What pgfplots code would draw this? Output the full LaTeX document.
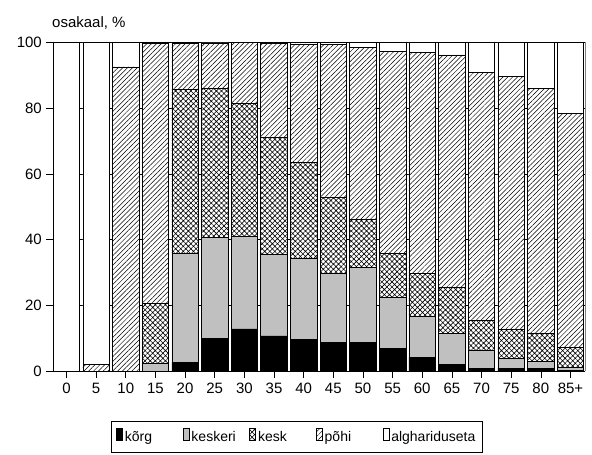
\documentclass[border=0pt]{standalone}
\usepackage{fontspec}
\setmainfont{Liberation Sans}
\usepackage{pgfplots}
\usepackage{pgfplotstable}
\pgfplotsset{compat=1.18}
\usetikzlibrary{patterns.meta}

\pgfplotstableread{
x korg keskeri kesk pohi algh
0 0 0 0 0 100
1 0 0 0 2.0 98.0
2 0 0 0 92.6 7.4
3 0 2.3 18.3 79.1 0.3
4 2.7 33.1 49.9 14.1 0.2
5 10.0 30.7 45.4 13.8 0.1
6 12.8 28.3 40.4 18.5 0
7 10.7 24.7 35.6 28.7 0.3
8 9.7 24.5 29.2 36.2 0.4
9 8.7 20.9 23.2 46.6 0.6
10 8.7 22.8 14.7 52.2 1.6
11 6.9 15.4 13.5 61.6 2.6
12 4.2 12.6 12.8 67.4 3.0
13 2.0 9.5 14.0 70.7 3.8
14 0.9 5.5 8.9 75.5 9.2
15 0.9 3.0 8.7 77.0 10.4
16 0.9 2.0 8.7 74.5 13.9
17 0.3 0.8 6.1 71.2 21.6
}\data

\definecolor{keskgray}{RGB}{192,192,192}

\tikzset{
  mylegend/.style={legend image code/.code={\draw[##1,line width=0.6pt] (0pt,-4.5pt) rectangle (8.5pt,6pt);}}
}

\begin{document}
\fontsize{15}{17}\selectfont
\begin{tikzpicture}
\useasboundingbox (0,0) rectangle (592pt,455pt);
\begin{axis}[
  at={(53pt,84pt)}, anchor=south west,
  scale only axis, width=532pt, height=328.5pt,
  ybar stacked, bar width=26.5pt,
  xmin=-0.455, xmax=17.49,
  ymin=0, ymax=100,
  ytick={0,20,...,100},
  xtick={0,...,17},
  xticklabels={0,5,10,15,20,25,30,35,40,45,50,55,60,65,70,75,80,85+},
  axis x line*=bottom, axis y line*=left,
  axis line style={black, line width=0.6pt},
  tick align=outside,
  major tick length=7pt,
  tick style={black, line width=0.6pt},
  ymajorgrids,
  major grid style={black, line width=0.5pt},
  /pgf/number format/assume math mode=true,
  tick label style={font=\fontsize{15}{17}\selectfont},
  yticklabel style={xshift=1pt},
  clip=false,
  legend columns=5,
  legend style={at={(0.109,-0.152)}, anchor=north west, draw=black, line width=0.6pt,
    inner xsep=5pt, inner ysep=7pt, column sep=0pt,
    font=\fontsize{14}{16}\selectfont,
    nodes={inner xsep=2pt, inner ysep=2pt}},
]
\addplot[draw=black, line width=0.6pt, fill=black, mylegend] table[x=x,y=korg] {\data};
\addlegendentry{\makebox[56pt][l]{kõrg}}
\addplot[draw=black, line width=0.6pt, fill=keskgray, mylegend] table[x=x,y=keskeri] {\data};
\addlegendentry{\makebox[56pt][l]{keskeri}}
\addplot[draw=black, line width=0.6pt, fill=white, postaction={pattern={Hatch[angle=45,distance=3.6pt,line width=0.6pt]}}, mylegend] table[x=x,y=kesk] {\data};
\addlegendentry{\makebox[56pt][l]{kesk}}
\addplot[draw=black, line width=0.6pt, fill=white, postaction={pattern={Lines[angle=45,distance=3.4pt,line width=0.5pt]}}, mylegend] table[x=x,y=pohi] {\data};
\addlegendentry{\makebox[56pt][l]{põhi}}
\addplot[draw=black, line width=0.6pt, fill=white, mylegend] table[x=x,y=algh] {\data};
\addlegendentry{alghariduseta}
\draw[gray, line width=0.8pt] (rel axis cs:1,0) -- (rel axis cs:1,1);
\node[anchor=base west, inner sep=0pt, font=\fontsize{15}{17}\selectfont] at (rel axis cs:0,1) [xshift=-1pt, yshift=14.5pt] {osakaal, \%};
\end{axis}
\end{tikzpicture}
\end{document}
